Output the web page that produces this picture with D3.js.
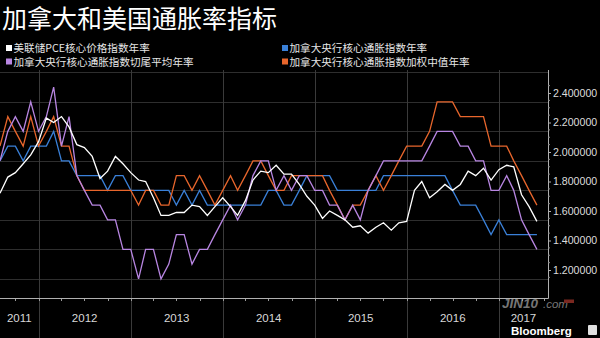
<!DOCTYPE html>
<html><head><meta charset="utf-8">
<script src="https://cdn.jsdelivr.net/npm/d3@7"></script>
<style>html,body{margin:0;padding:0;background:#000;} svg{display:block;}</style>
</head><body>
<svg id="chart" width="600" height="338"></svg>
<script>
// ---------- data ----------
const title = "加拿大和美国通胀率指标";
const seriesNames = [
  "美联储PCE核心价格指数年率",
  "加拿大央行核心通胀指数年率",
  "加拿大央行核心通胀指数切尾平均年率",
  "加拿大央行核心通胀指数加权中值年率"
];
const seriesColors = ["#ffffff", "#3a80d8", "#b886e2", "#e8662c"];
// first monthly observation (plotted at month end), Jul 2011 .. May 2017
const firstPointDate = new Date(2011, 7, 1);
const usCorePCE = [
  1.72,1.83,1.86,1.92,1.98,2.07,2.23,2.20,2.24,2.17,
  2.05,2.03,1.97,1.82,1.87,1.97,1.92,1.86,1.81,1.80,
  1.69,1.57,1.57,1.59,1.59,1.64,1.63,1.57,1.63,1.69,
  1.63,1.57,1.67,1.81,1.87,1.86,1.91,1.85,1.85,1.78,
  1.70,1.64,1.55,1.60,1.57,1.54,1.49,1.50,1.45,1.49,
  1.52,1.47,1.52,1.53,1.74,1.80,1.69,1.73,1.78,1.74,
  1.78,1.87,1.84,1.89,1.81,1.88,1.91,1.90,1.71,1.63,
  1.53
];
const bocCore = [
  1.94,2.04,2.04,1.94,2.04,2.04,2.04,2.14,1.94,1.94,
  1.84,1.84,1.84,1.84,1.74,1.84,1.84,1.74,1.74,1.74,
  1.74,1.74,1.74,1.64,1.74,1.64,1.74,1.64,1.64,1.64,
  1.64,1.64,1.64,1.64,1.64,1.74,1.74,1.64,1.64,1.74,
  1.84,1.84,1.84,1.84,1.74,1.74,1.74,1.74,1.74,1.74,
  1.84,1.84,1.84,1.84,1.84,1.84,1.84,1.84,1.84,1.74,
  1.64,1.64,1.64,1.54,1.44,1.54,1.44,1.44,1.44,1.44,
  1.44
];
const bocTrim = [
  1.94,2.14,2.24,2.14,2.34,2.14,2.24,2.44,2.04,2.24,
  1.84,1.74,1.64,1.64,1.54,1.54,1.34,1.34,1.14,1.34,
  1.34,1.14,1.24,1.44,1.44,1.24,1.34,1.34,1.44,1.54,
  1.64,1.54,1.64,1.84,1.94,1.94,1.74,1.84,1.74,1.84,
  1.84,1.74,1.74,1.64,1.64,1.54,1.64,1.54,1.74,1.84,
  1.94,1.94,1.94,1.94,1.94,1.94,2.04,2.14,2.14,2.14,
  2.04,2.04,1.94,1.94,1.74,1.74,1.84,1.74,1.54,1.44,
  1.34
];
const bocMedian = [
  2.04,2.24,2.14,2.04,2.24,2.04,2.14,2.24,2.04,2.04,
  1.84,1.74,1.74,1.74,1.74,1.74,1.74,1.74,1.64,1.74,
  1.74,1.64,1.64,1.84,1.84,1.74,1.84,1.74,1.64,1.74,
  1.84,1.74,1.84,1.94,1.94,1.84,1.74,1.74,1.84,1.84,
  1.84,1.84,1.84,1.74,1.64,1.54,1.64,1.64,1.74,1.84,
  1.74,1.84,1.94,2.04,2.04,2.04,2.14,2.34,2.34,2.34,
  2.24,2.24,2.24,2.24,2.04,2.04,2.04,1.94,1.84,1.74,
  1.64
];
const yTicks = [1.2, 1.4, 1.6, 1.8, 2.0, 2.2, 2.4];
const gridValues = [1.14, 1.34, 1.54, 1.74, 1.94, 2.14, 2.34, 2.54];
const yearLabels = ["2011", "2012", "2013", "2014", "2015", "2016", "2017"];
const sourceLabel = "Bloomberg";

// ---------- layout ----------
const svg = d3.select("#chart");
const W = 600, H = 338;
const plotLeft = 0, plotRight = 548, plotTop = 70, plotBottom = 298;
svg.append("rect").attr("width", W).attr("height", H).attr("fill", "#000");

const x = d3.scaleTime()
  .domain([new Date(2011, 7, 1), new Date(2017, 6, 15)])
  .range([plotLeft, plotRight]);
const y = d3.scaleLinear().domain([1.2, 2.4]).range([270, 93]);

const dates = usCorePCE.map((_, i) => d3.timeMonth.offset(firstPointDate, i));
const allSeries = [usCorePCE, bocCore, bocTrim, bocMedian];

// horizontal grid
svg.append("g").selectAll("line").data(gridValues).join("line")
  .attr("x1", plotLeft).attr("x2", plotRight)
  .attr("y1", d => Math.round(y(d)) + 0.5).attr("y2", d => Math.round(y(d)) + 0.5)
  .attr("stroke", "#2e2e2e").attr("stroke-width", 1);

// vertical year separators
const yearStarts = d3.timeYear.range(new Date(2012, 0, 1), new Date(2018, 0, 1));
svg.append("g").selectAll("line").data(yearStarts).join("line")
  .attr("x1", d => Math.round(x(d)) + 0.5).attr("x2", d => Math.round(x(d)) + 0.5)
  .attr("y1", plotTop).attr("y2", H)
  .attr("stroke", "#3a3a3a").attr("stroke-width", 1);

// quarter ticks on bottom axis
const quarters = d3.timeMonth.every(3).range(x.domain()[0], x.domain()[1]);
svg.append("g").selectAll("line").data(quarters).join("line")
  .attr("x1", d => Math.round(x(d)) + 0.5).attr("x2", d => Math.round(x(d)) + 0.5)
  .attr("y1", plotBottom).attr("y2", plotBottom + 3)
  .attr("stroke", "#9a9a9a");

// frame: bottom & right
svg.append("line").attr("x1", plotLeft).attr("x2", plotRight + 0.5)
  .attr("y1", plotBottom + 0.5).attr("y2", plotBottom + 0.5)
  .attr("stroke", "#b0b0b0").attr("stroke-width", 1);
svg.append("line").attr("x1", plotRight + 0.5).attr("x2", plotRight + 0.5)
  .attr("y1", plotTop).attr("y2", plotBottom + 0.5)
  .attr("stroke", "#b0b0b0").attr("stroke-width", 1);

// year labels centred on visible span of each year
svg.append("g").selectAll("text").data(yearLabels).join("text")
  .attr("x", d => {
    const a = Math.max(x(new Date(+d, 0, 1)), plotLeft);
    const b = Math.min(x(new Date(+d + 1, 0, 1)), plotRight);
    return (a + b) / 2;
  })
  .attr("y", 321.5)
  .attr("text-anchor", "middle")
  .attr("font-family", "Liberation Sans, Arial, sans-serif")
  .attr("font-size", 11.5)
  .attr("fill", "#d8d8d8")
  .text(d => d);

// right y axis
const yAxis = d3.axisRight(y).tickValues(yTicks).tickFormat(d3.format(".6f"))
  .tickSize(3).tickPadding(2);
const ya = svg.append("g").attr("transform", `translate(${plotRight},0)`).call(yAxis);
ya.select(".domain").remove();
ya.selectAll(".tick line").attr("stroke", "#b0b0b0");
ya.selectAll(".tick text").attr("fill", "#dcdcdc")
  .attr("font-family", "Liberation Sans, Arial, sans-serif").attr("font-size", 10.6);
// minor ticks
const minor = d3.range(1.15, 2.5, 0.05).filter(v => yTicks.every(t => Math.abs(t - v) > 0.01));
svg.append("g").selectAll("line").data(minor).join("line")
  .attr("x1", plotRight).attr("x2", plotRight + 2)
  .attr("y1", d => y(d)).attr("y2", d => y(d))
  .attr("stroke", "#8a8a8a");

// lines (draw order: blue, orange, purple, white on top)
const line = d3.line().x((d, i) => x(dates[i])).y(d => y(d));
[1, 3, 2, 0].forEach(k => {
  svg.append("path").datum(allSeries[k])
    .attr("d", line)
    .attr("fill", "none")
    .attr("stroke", seriesColors[k])
    .attr("stroke-width", 1.3)
    .attr("stroke-linejoin", "miter");
});

// title
svg.append("text").attr("x", 2).attr("y", 27.5)
  .attr("font-family", "Noto Sans CJK SC, sans-serif")
  .attr("font-size", 25).attr("fill", "#ffffff").text(title);

// legend
const legendPos = [
  {x: 6, y: 48}, {x: 282, y: 48}, {x: 6, y: 61.5}, {x: 282, y: 61.5}
];
seriesNames.forEach((name, k) => {
  const p = legendPos[k];
  svg.append("rect").attr("x", p.x).attr("y", p.y - 3).attr("width", 6).attr("height", 6)
    .attr("fill", seriesColors[k]);
  svg.append("text").attr("x", p.x + 7.5).attr("y", p.y + 4)
    .attr("font-family", "Noto Sans CJK SC, sans-serif")
    .attr("font-size", 10.6).attr("fill", "#e6e6e6").text(name);
});

// watermark (kept above the 2017 label) + source
const wm = svg.append("g").attr("opacity", 0.7);
wm.append("text").attr("x", 502).attr("y", 308)
  .attr("font-family", "Liberation Sans, Arial, sans-serif")
  .attr("font-size", 13.5).attr("font-weight", "bold").attr("font-style", "italic")
  .attr("fill", "#a8a8a8").text("JIN10");
wm.append("text").attr("x", 543).attr("y", 308)
  .attr("font-family", "Liberation Sans, Arial, sans-serif")
  .attr("font-size", 11.5).attr("font-style", "italic")
  .attr("fill", "#a8a8a8").text(".com");
wm.append("rect").attr("x", 564).attr("y", 299.5).attr("width", 10).attr("height", 3.5).attr("fill", "#b03a2e");

svg.append("text").attr("x", 511).attr("y", 334.5)
  .attr("font-family", "Liberation Sans, Arial, sans-serif")
  .attr("font-size", 11.5).attr("font-weight", "bold").attr("fill", "#ffffff").text(sourceLabel);
svg.append("rect").attr("x", 588).attr("y", 325).attr("width", 9).attr("height", 10)
  .attr("rx", 1).attr("fill", "#e0e0e0");
</script>
</body></html>
